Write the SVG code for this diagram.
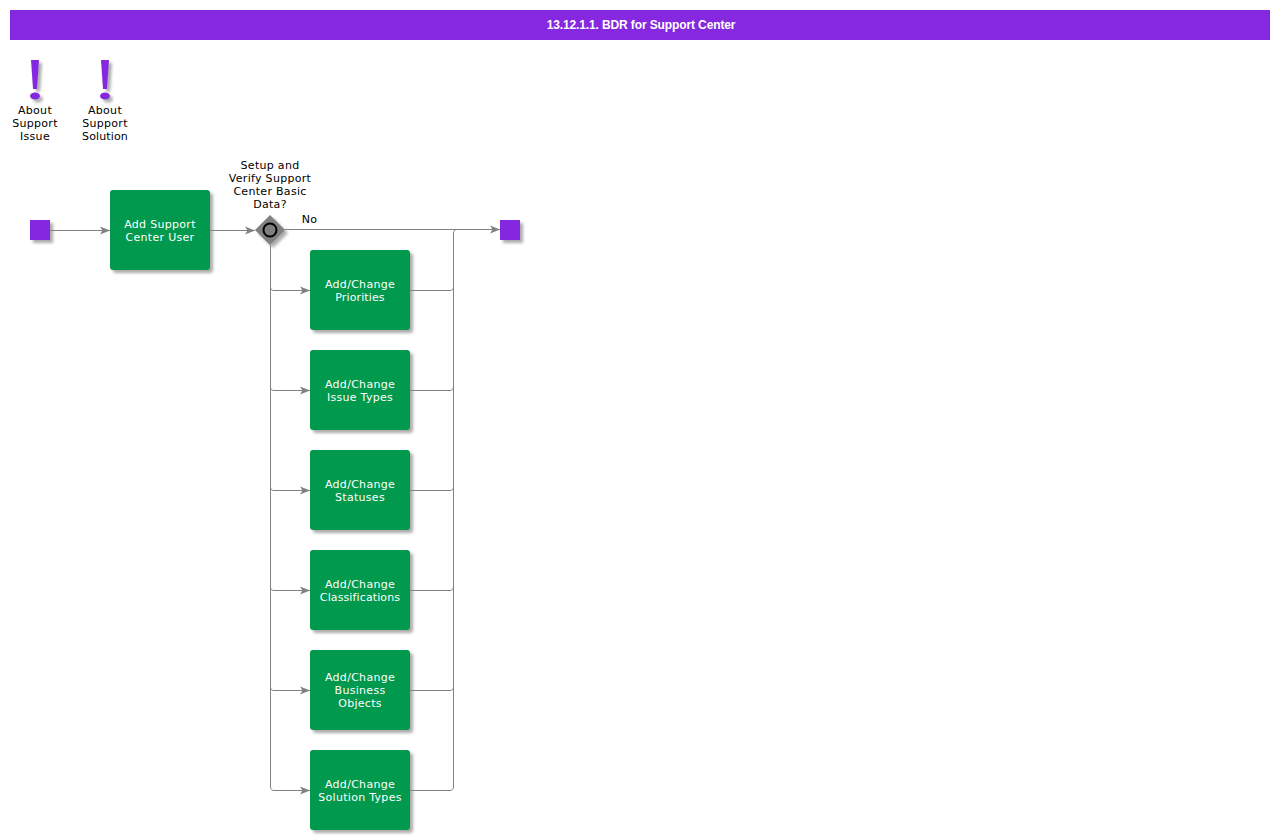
<svg xmlns="http://www.w3.org/2000/svg" width="1280" height="840" viewBox="0 0 1280 840">
<style>
text{font-family:"DejaVu Sans",Verdana,sans-serif;font-size:11px;text-anchor:middle;letter-spacing:.3px}
text.n{letter-spacing:.12px}
.t{fill:#fff}
.l{fill:#000}
.task{fill:#00994d}
.ev,.ex{fill:#8528e0}
.c{fill:none;stroke:#808080;stroke-width:1}
.sh{filter:url(#s)}
</style>
<defs>
<filter id="s" x="-30%" y="-30%" width="170%" height="170%"><feDropShadow dx="3" dy="3" stdDeviation="1.700" flood-color="#888" flood-opacity=".7"/></filter>
<marker id="a" markerUnits="userSpaceOnUse" markerWidth="11" markerHeight="9" refX="10" refY="4.500" orient="auto"><path d="M0 0.500L10 4.500L0 8.500L2.500 4.500Z" fill="#808080"/></marker>
</defs>
<rect x="10" y="10" width="1260" height="30" fill="#8528e0"/>
<text x="641" y="29" class="t" style="font-family:'Liberation Sans',Arial,sans-serif;font-size:12px;font-weight:bold;letter-spacing:-.12px">13.12.1.1. BDR for Support Center</text>
<g id="about-issue"><g class="sh"><path class="ex" d="M31 60H39L37 89H33Z"/><ellipse class="ex" cx="35" cy="96" rx="5" ry="3.500"/></g><text class="l" x="35" y="114">About</text><text class="l" x="35" y="127">Support</text><text class="l" x="35" y="140">Issue</text></g>
<g id="about-solution"><g class="sh"><path class="ex" d="M101 60H109L107 89H103Z"/><ellipse class="ex" cx="105" cy="96" rx="5" ry="3.500"/></g><text class="l" x="105" y="114">About</text><text class="l" x="105" y="127">Support</text><text class="l n" x="105" y="140">Solution</text></g>
<g id="connectors">
<path class="c" marker-end="url(#a)" d="M50 230.500H110"/>
<path class="c" marker-end="url(#a)" d="M210 230.500H255"/>
<path class="c" marker-end="url(#a)" d="M285 229.500H500"/>
<path class="c" marker-end="url(#a)" d="M270.500 245V287C270.500 289 271.500 290.500 274 290.500H310"/>
<path class="c" marker-end="url(#a)" d="M270.500 245V387C270.500 389 271.500 390.500 274 390.500H310"/>
<path class="c" marker-end="url(#a)" d="M270.500 245V487C270.500 489 271.500 490.500 274 490.500H310"/>
<path class="c" marker-end="url(#a)" d="M270.500 245V587C270.500 589 271.500 590.500 274 590.500H310"/>
<path class="c" marker-end="url(#a)" d="M270.500 245V687C270.500 689 271.500 690.500 274 690.500H310"/>
<path class="c" marker-end="url(#a)" d="M270.500 245V787C270.500 789 271.500 790.500 274 790.500H310"/>
<path class="c" d="M410 290.500H450C452 290.500 453.500 289 453.500 287V233C453.500 231 455 229.500 457 229.500"/>
<path class="c" d="M410 390.500H450C452 390.500 453.500 389 453.500 387V233"/>
<path class="c" d="M410 490.500H450C452 490.500 453.500 489 453.500 487V233"/>
<path class="c" d="M410 590.500H450C452 590.500 453.500 589 453.500 587V233"/>
<path class="c" d="M410 690.500H450C452 690.500 453.500 689 453.500 687V233"/>
<path class="c" d="M410 790.500H450C452 790.500 453.500 789 453.500 787V233"/>
</g>
<g id="start"><rect class="ev sh" x="30" y="220" width="20" height="20"/></g>
<g id="add-user"><rect class="task sh" x="110" y="190" width="100" height="80" rx="3"/><text class="t" x="160" y="228">Add Support</text><text class="t" x="160" y="241">Center User</text></g>
<g id="gateway"><path class="sh" d="M270 215L285 230L270 245L255 230Z" fill="#808080"/><circle cx="270" cy="230" r="6.500" fill="#808080" stroke="#000" stroke-width="2"/><text class="l" x="270" y="169">Setup and</text><text class="l" x="270" y="182">Verify Support</text><text class="l" x="270" y="195">Center Basic</text><text class="l" x="270" y="208">Data?</text><text class="l" x="309.500" y="223">No</text></g>
<g id="end"><rect class="ev sh" x="500" y="220" width="20" height="20"/></g>
<g id="priorities"><rect class="task sh" x="310" y="250" width="100" height="80" rx="3"/><text class="t" x="360" y="288">Add/Change</text><text class="t n" x="360" y="301">Priorities</text></g>
<g id="issue-types"><rect class="task sh" x="310" y="350" width="100" height="80" rx="3"/><text class="t" x="360" y="388">Add/Change</text><text class="t" x="360" y="401">Issue Types</text></g>
<g id="statuses"><rect class="task sh" x="310" y="450" width="100" height="80" rx="3"/><text class="t" x="360" y="488">Add/Change</text><text class="t" x="360" y="501">Statuses</text></g>
<g id="classifications"><rect class="task sh" x="310" y="550" width="100" height="80" rx="3"/><text class="t" x="360" y="588">Add/Change</text><text class="t n" x="360" y="601">Classifications</text></g>
<g id="business-objects"><rect class="task sh" x="310" y="650" width="100" height="80" rx="3"/><text class="t" x="360" y="681">Add/Change</text><text class="t" x="360" y="694">Business</text><text class="t" x="360" y="707">Objects</text></g>
<g id="solution-types"><rect class="task sh" x="310" y="750" width="100" height="80" rx="3"/><text class="t" x="360" y="788">Add/Change</text><text class="t" x="360" y="801">Solution Types</text></g>
</svg>
